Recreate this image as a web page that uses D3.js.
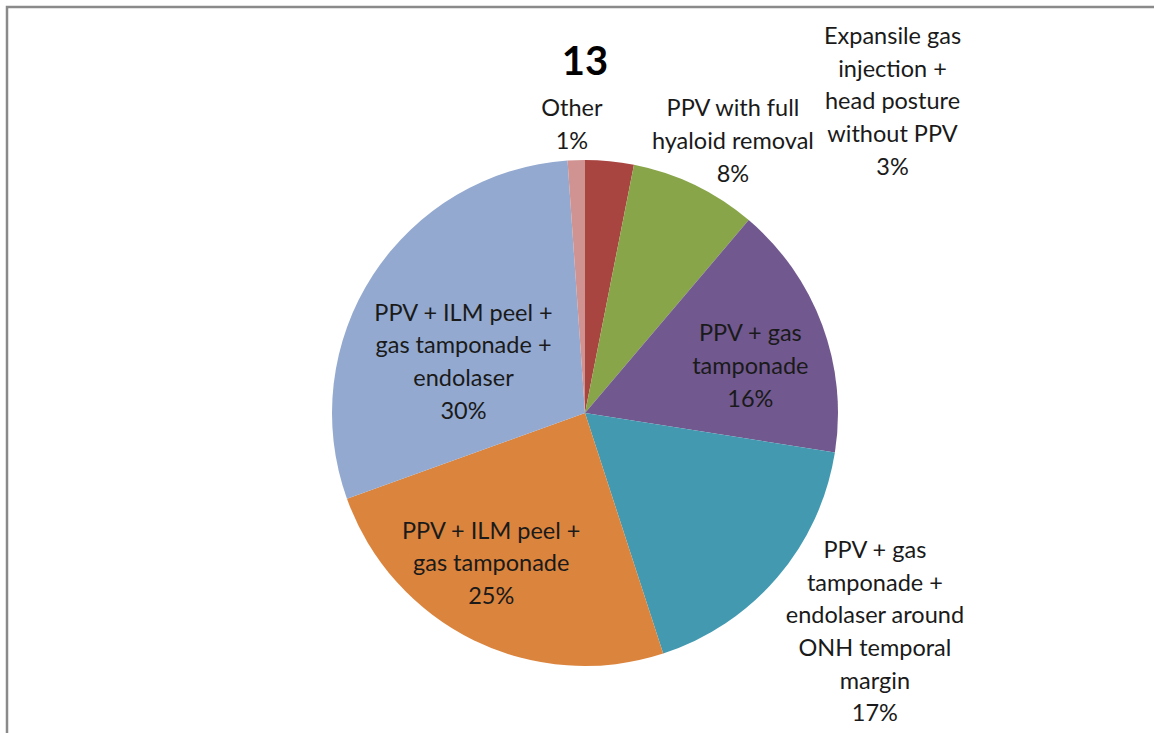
<!DOCTYPE html>
<html>
<head>
<meta charset="utf-8">
<script src="https://cdn.jsdelivr.net/npm/d3@7"></script>
<style>
  body { margin: 0; background: #fff; }
  svg { display: block; }
  .lbl { font-family: Lato, "Open Sans", sans-serif; font-size: 23.5px; fill: #1a1a1a; }
</style>
</head>
<body>
<script>
// slice data, clockwise from 12 o'clock
var labels = [
  ["Expansile gas", "injection +", "head posture", "without PPV"],
  ["PPV with full", "hyaloid removal"],
  ["PPV + gas", "tamponade"],
  ["PPV + gas", "tamponade +", "endolaser around", "ONH temporal", "margin"],
  ["PPV + ILM peel +", "gas tamponade"],
  ["PPV + ILM peel +", "gas tamponade +", "endolaser"],
  ["Other"]
];
var shares = [3.1, 8.1, 16.3, 17.5, 24.5, 29.4, 1.1];
var pctLabels = ["3%", "8%", "16%", "17%", "25%", "30%", "1%"];
var colors = ["#a84540", "#88a54a", "#71588f", "#4299b0", "#db843d", "#93a9cf", "#d09392"];
var title = "13";

var svgWidth = 1154, svgHeight = 733;
var cx = 585, cy = 413, radius = 253;

// where each label block sits: angle (deg from north) and distance from centre
var labelPos = [
  {a: 44.6, r: 438}, {a: 28.5, r: 310}, {a: 74, r: 172},
  {a: 127, r: 363}, {a: 212, r: 177}, {a: 293, r: 132}, {a: 357.4, r: 289}
];
var lineH = 32.7;

var svg = d3.select("body").append("svg")
  .attr("width", svgWidth)
  .attr("height", svgHeight);

// chart frame (only left and top edges are visible)
svg.append("path")
  .attr("d", "M7,733 V7 H1154")
  .attr("fill", "none")
  .attr("stroke", "#8a8a8a")
  .attr("stroke-width", 2.5);

svg.append("text")
  .attr("x", cx)
  .attr("y", 75)
  .attr("text-anchor", "middle")
  .style("font-family", "Lato, sans-serif")
  .style("font-weight", "bold")
  .style("font-size", "40px")
  .attr("fill", "#000")
  .text(title);

var data = shares.map(function(v, i) {
  return {value: v, lines: labels[i].concat([pctLabels[i]]), color: colors[i], pos: labelPos[i]};
});

var pie = d3.pie().sort(null).value(function(d) { return d.value; });
var arc = d3.arc().innerRadius(0).outerRadius(radius);

var g = svg.append("g").attr("transform", "translate(" + cx + "," + cy + ")");

g.selectAll("path.slice")
  .data(pie(data))
  .enter()
  .append("path")
  .attr("class", "slice")
  .attr("d", arc)
  .attr("fill", function(d) { return d.data.color; });

var lbl = g.selectAll("text.lbl")
  .data(pie(data))
  .enter()
  .append("text")
  .attr("class", "lbl")
  .attr("text-anchor", "middle")
  .each(function(d) {
    var p = d3.pointRadial(d.data.pos.a * Math.PI / 180, d.data.pos.r);
    var n = d.data.lines.length;
    var t = d3.select(this);
    d.data.lines.forEach(function(line, k) {
      t.append("tspan")
        .attr("x", p[0])
        .attr("y", p[1] + (k - (n - 1) / 2) * lineH)
        .attr("dy", "0.35em")
        .text(line);
    });
  });
</script>
</body>
</html>
